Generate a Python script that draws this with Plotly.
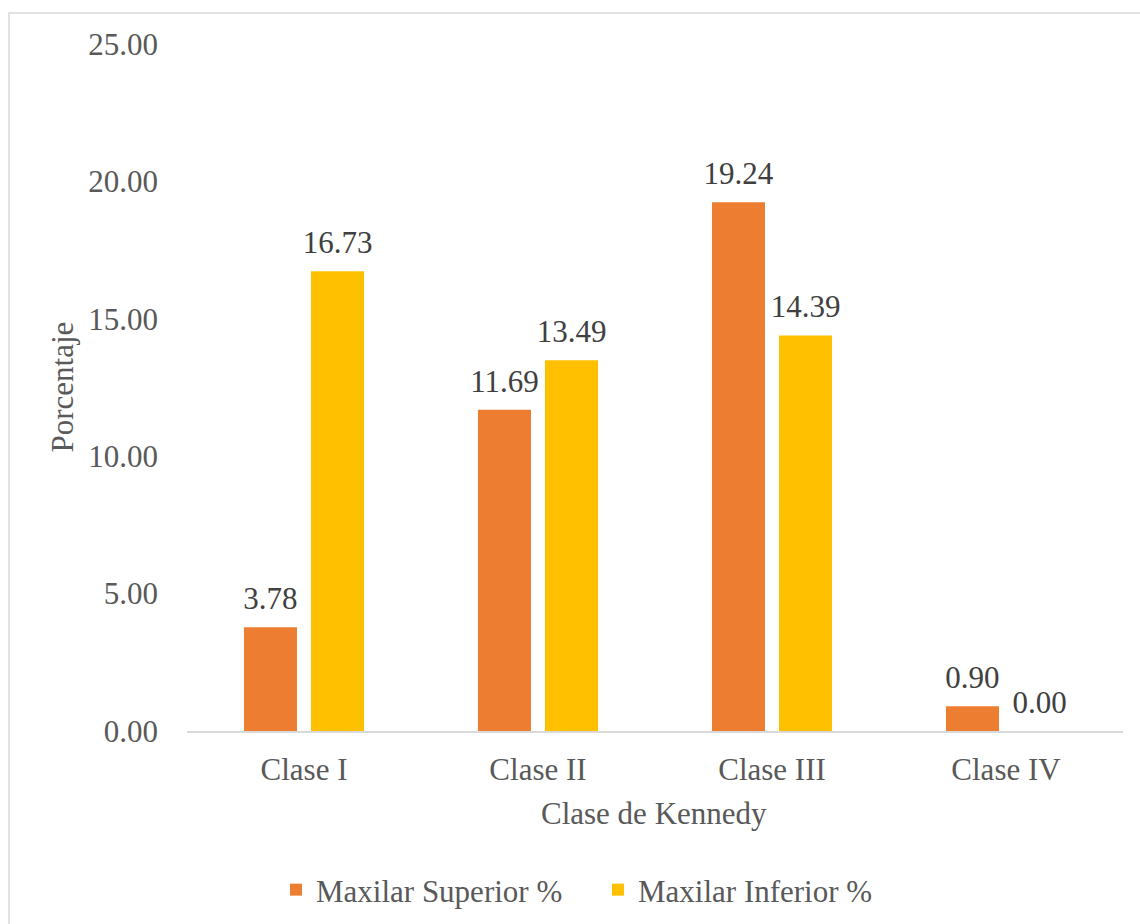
import plotly.graph_objects as go

categories = ["Clase I", "Clase II", "Clase III", "Clase IV"]
superior = [3.78, 11.69, 19.24, 0.90]
inferior = [16.73, 13.49, 14.39, 0.00]
series_names = ["Maxilar Superior %", "Maxilar Inferior %"]
series_colors = ["#ED7D31", "#FFC000"]
y_ticks = [0, 5, 10, 15, 20, 25]

FONT = "Liberation Serif"
W, H = 1140, 924
L, R, T, B = 187, 17, 44, 193
PW, PH = W - L - R, H - T - B
BARGAP = 0.427

def px(x):
    return (x - L) / PW

def py(y):
    return (H - B - y) / PH

fig = go.Figure()
for name, vals, col, grp in zip(series_names, [superior, inferior], series_colors, ["a", "b"]):
    fig.add_trace(go.Bar(
        x=categories, y=vals, name=name, offsetgroup=grp,
        marker=dict(color=col, line=dict(width=0)),
        hoverinfo="x+y",
    ))
for name, vals, grp in zip(series_names, [superior, inferior], ["a", "b"]):
    fig.add_trace(go.Scatter(
        x=categories, y=vals, mode="markers+text", orientation="v",
        offsetgroup=grp, showlegend=False, hoverinfo="skip", cliponaxis=False,
        marker=dict(size=15, opacity=0),
        text=[f"{v:.2f}" for v in vals], textposition="top center",
        textfont=dict(family=FONT, size=31, color="#404040"),
    ))

fig.update_layout(
    width=W, height=H,
    margin=dict(l=L, r=R, t=T, b=B, pad=0, autoexpand=False),
    paper_bgcolor="white", plot_bgcolor="white",
    font=dict(family=FONT, size=31, color="#595959"),
    barmode="group", bargap=BARGAP, bargroupgap=0.209,
    scattermode="group", scattergap=BARGAP,
    showlegend=True,
    legend=dict(
        orientation="h", xref="container", yref="container",
        x=276 / W, xanchor="left", y=(H - 890) / H, yanchor="middle",
        font=dict(family=FONT, size=31, color="#595959"),
        entrywidth=277, entrywidthmode="pixels", itemwidth=30,
        bgcolor="rgba(0,0,0,0)",
    ),
    xaxis=dict(
        showline=True, linecolor="#D9D9D9", linewidth=1.5, automargin=False,
        showgrid=False, ticks="", ticklabelstandoff=10,
        tickfont=dict(family=FONT, size=31, color="#595959"),
    ),
    yaxis=dict(
        range=[0, 25], tickvals=y_ticks, tickformat=".2f", automargin=False,
        showline=False, showgrid=False, zeroline=False, ticks="",
        ticklabelstandoff=28,
        tickfont=dict(family=FONT, size=31, color="#595959"),
    ),
    annotations=[
        dict(text="Porcentaje", x=px(62), y=0.5, xref="paper", yref="paper",
             textangle=-90, showarrow=False, xanchor="center", yanchor="middle",
             font=dict(family=FONT, size=31, color="#595959")),
        dict(text="Clase de Kennedy", x=px(654), y=py(813), xref="paper", yref="paper",
             showarrow=False, xanchor="center", yanchor="middle",
             font=dict(family=FONT, size=31, color="#595959")),
    ],
    shapes=[
        dict(type="rect", xref="paper", yref="paper",
             x0=px(9), x1=px(1150), y0=py(935), y1=py(13),
             line=dict(color="#D9D9D9", width=1.5), layer="below"),
    ],
)

fig.write_html("out.html")
